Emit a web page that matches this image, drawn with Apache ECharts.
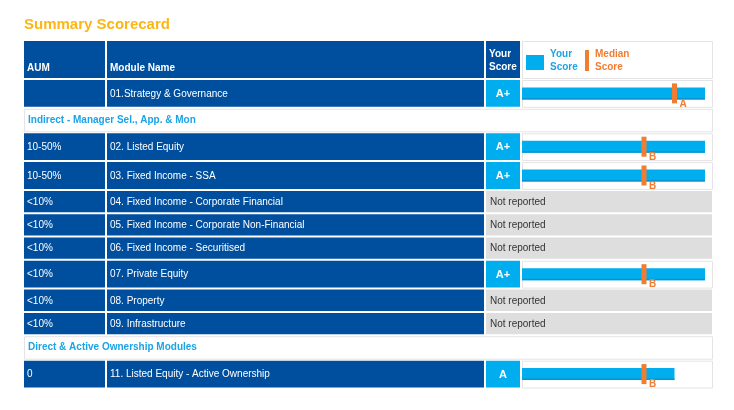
<!DOCTYPE html>
<html>
<head>
<meta charset="utf-8">
<script src="https://cdn.jsdelivr.net/npm/echarts@6/dist/echarts.min.js"></script>
<style>
html, body { margin: 0; padding: 0; background: #fff; }
#main { width: 734px; height: 410px; }
</style>
</head>
<body>
<div id="main"></div>
<script>
// data
var titleText = 'Summary Scorecard';
var headerLabels = ['AUM', 'Module Name', 'Your\nScore'];
var legendLabels = ['Your\nScore', 'Median\nScore'];
var rowTypes = ['score', 'section', 'score', 'score', 'none', 'none', 'none', 'score', 'none', 'none', 'section', 'score'];
var aumLabels = ['', '', '10-50%', '10-50%', '<10%', '<10%', '<10%', '<10%', '<10%', '<10%', '', '0'];
var moduleNames = [
  '01.Strategy & Governance',
  'Indirect - Manager Sel., App. & Mon',
  '02. Listed Equity',
  '03. Fixed Income - SSA',
  '04. Fixed Income - Corporate Financial',
  '05. Fixed Income - Corporate Non-Financial',
  '06. Fixed Income - Securitised',
  '07. Private Equity',
  '08. Property',
  '09. Infrastructure',
  'Direct & Active Ownership Modules',
  '11. Listed Equity - Active Ownership'
];
var yourScores = ['A+', null, 'A+', 'A+', null, null, null, 'A+', null, null, null, 'A'];
var medianScores = ['A', null, 'B', 'B', null, null, null, 'B', null, null, null, 'B'];
var gradeLabels = ['E', 'D', 'C', 'B', 'A', 'A+'];
var notReportedText = 'Not reported';

// layout
var FONT = '"Liberation Sans", Arial, sans-serif';
var darkBlue = '#004f9f';
var lightBlue = '#00aeef';
var orange = '#ef7d32';
var lineGrey = '#e6e3e6';
var rowH = { header: 39, score: 28.8, none: 23.3, section: 24.5 };
var colEdges = [0, 83, 462, 498, 690];

var allRows = ['header'].concat(rowTypes);
var rowStart = [];
var totalH = 0;
allRows.forEach(function (t) {
  rowStart.push(totalH);
  totalH += rowH[t];
});

function gradeValue(g) {
  return gradeLabels.indexOf(g) + 1;
}

// table cells
var tableData = allRows.map(function (t, i) { return [i]; });

function cellRect(api, c0, c1, y0, h) {
  var a = api.coord([colEdges[c0], y0]);
  var b = api.coord([colEdges[c1], y0 + h]);
  return { x: a[0], y: a[1], width: b[0] - a[0] - 2, height: b[1] - a[1] - 2 };
}

function txt(x, y, text, opt) {
  opt = opt || {};
  return {
    type: 'text',
    style: {
      x: x, y: y, text: text,
      fill: opt.fill || '#fff',
      font: (opt.bold ? 'bold ' : '') + (opt.size || 10) + 'px ' + FONT,
      align: opt.align || 'left',
      verticalAlign: 'middle',
      lineHeight: opt.lineHeight || 13
    }
  };
}

function renderTable(params, api) {
  var i = api.value(0);
  var type = allRows[i];
  var y0 = rowStart[i];
  var h = rowH[type];
  var kids = [];
  var r;
  if (type === 'section') {
    r = cellRect(api, 0, 4, y0, h);
    kids.push({ type: 'rect', shape: { x: r.x + 0.5, y: r.y + 0.5, width: r.width, height: r.height },
      style: { fill: '#fff', stroke: lineGrey, lineWidth: 1 } });
    kids.push(txt(r.x + 4, r.y + r.height / 2, moduleNames[i - 1], { fill: '#1ba3e6', bold: true }));
    return { type: 'group', children: kids };
  }
  var rA = cellRect(api, 0, 1, y0, h);
  var rM = cellRect(api, 1, 2, y0, h);
  kids.push({ type: 'rect', shape: rA, style: { fill: darkBlue } });
  kids.push({ type: 'rect', shape: rM, style: { fill: darkBlue } });
  if (type === 'header') {
    var rS = cellRect(api, 2, 3, y0, h);
    var rB = cellRect(api, 3, 4, y0, h);
    kids.push({ type: 'rect', shape: rS, style: { fill: darkBlue } });
    kids.push({ type: 'rect', shape: { x: rB.x + 0.5, y: rB.y + 0.5, width: rB.width, height: rB.height },
      style: { fill: '#fff', stroke: lineGrey, lineWidth: 1 } });
    kids.push(txt(rA.x + 3, rA.y + 27, headerLabels[0], { bold: true }));
    kids.push(txt(rM.x + 3, rM.y + 27, headerLabels[1], { bold: true }));
    kids.push(txt(rS.x + 3, rS.y + 19.5, headerLabels[2], { bold: true }));
    // legend
    kids.push({ type: 'rect', shape: { x: rB.x + 4, y: rB.y + 14, width: 18, height: 15 }, style: { fill: lightBlue } });
    kids.push(txt(rB.x + 28, rB.y + 19.5, legendLabels[0], { bold: true, fill: '#1ba3e6' }));
    kids.push({ type: 'rect', shape: { x: rB.x + 63, y: rB.y + 9, width: 4, height: 21 }, style: { fill: orange } });
    kids.push(txt(rB.x + 73, rB.y + 19.5, legendLabels[1], { bold: true, fill: orange }));
    return { type: 'group', children: kids };
  }
  var k = i - 1;
  var cy = rA.y + rA.height / 2 + 0.5;
  kids.push(txt(rA.x + 3, cy, aumLabels[k]));
  kids.push(txt(rM.x + 3, cy, moduleNames[k]));
  if (type === 'score') {
    var rS2 = cellRect(api, 2, 3, y0, h);
    var rB2 = cellRect(api, 3, 4, y0, h);
    kids.push({ type: 'rect', shape: rS2, style: { fill: lightBlue } });
    kids.push({ type: 'rect', shape: { x: rB2.x + 0.5, y: rB2.y + 0.5, width: rB2.width, height: rB2.height },
      style: { fill: '#fff', stroke: lineGrey, lineWidth: 1 } });
    kids.push(txt(rS2.x + rS2.width / 2, cy, yourScores[k], { bold: true, align: 'center', size: 11 }));
  } else {
    var rN = cellRect(api, 2, 4, y0, h);
    kids.push({ type: 'rect', shape: rN, style: { fill: '#dedede' } });
    kids.push(txt(rN.x + 4, cy, notReportedText, { fill: '#333' }));
  }
  return { type: 'group', children: kids };
}

// score bars
var barData = [];
rowTypes.forEach(function (t, k) {
  if (t !== 'score') return;
  var i = k + 1;
  var mid = rowStart[i] + (rowH[t] - 2) / 2;
  barData.push([gradeValue(yourScores[k]), mid, gradeValue(medianScores[k]), k]);
});

function renderBar(params, api) {
  var mid = api.value(1);
  var s = api.coord([0, mid]);
  var e = api.coord([api.value(0), mid]);
  var m = api.coord([api.value(2), mid]);
  var k = api.value(3);
  return {
    type: 'group',
    children: [
      { type: 'rect', shape: { x: s[0], y: s[1] - 6, width: e[0] - s[0], height: 12 }, style: { fill: lightBlue } },
      { type: 'rect', shape: { x: s[0], y: s[1] + 4.5, width: e[0] - s[0], height: 1.5 }, style: { fill: '#0a93cf' } },
      { type: 'rect', shape: { x: m[0] - 2.5, y: m[1] - 10, width: 5, height: 20 }, style: { fill: orange } },
      txt(m[0] + 5, m[1] + 10.5, medianScores[k], { fill: orange, bold: true })
    ]
  };
}

var myChart = echarts.init(document.getElementById('main'), null, { renderer: 'canvas' });

var option = {
  animation: false,
  title: {
    text: titleText,
    left: 24,
    top: 17,
    padding: 0,
    textStyle: { color: '#fbb614', fontSize: 15, fontWeight: 'bold', fontFamily: FONT }
  },
  grid: [
    { left: 24, top: 41, width: 690, height: totalH },
    { left: 522, top: 41, width: 183, height: totalH }
  ],
  xAxis: [
    { type: 'value', gridIndex: 0, min: 0, max: 690, show: false },
    { type: 'value', gridIndex: 1, min: 0, max: 6, interval: 1, show: false,
      axisLabel: { formatter: function (v) { return gradeLabels[v - 1] || ''; } } }
  ],
  yAxis: [
    { type: 'value', gridIndex: 0, min: 0, max: totalH, inverse: true, show: false },
    { type: 'value', gridIndex: 1, min: 0, max: totalH, inverse: true, show: false }
  ],
  series: [
    {
      name: 'Table',
      type: 'custom',
      xAxisIndex: 0,
      yAxisIndex: 0,
      clip: false,
      silent: true,
      renderItem: renderTable,
      data: tableData
    },
    {
      name: 'Your Score',
      type: 'custom',
      xAxisIndex: 1,
      yAxisIndex: 1,
      clip: false,
      silent: true,
      renderItem: renderBar,
      encode: { x: [0, 2], y: 1 },
      data: barData
    }
  ]
};

myChart.setOption(option);
window.onresize = myChart.resize;
</script>
</body>
</html>
